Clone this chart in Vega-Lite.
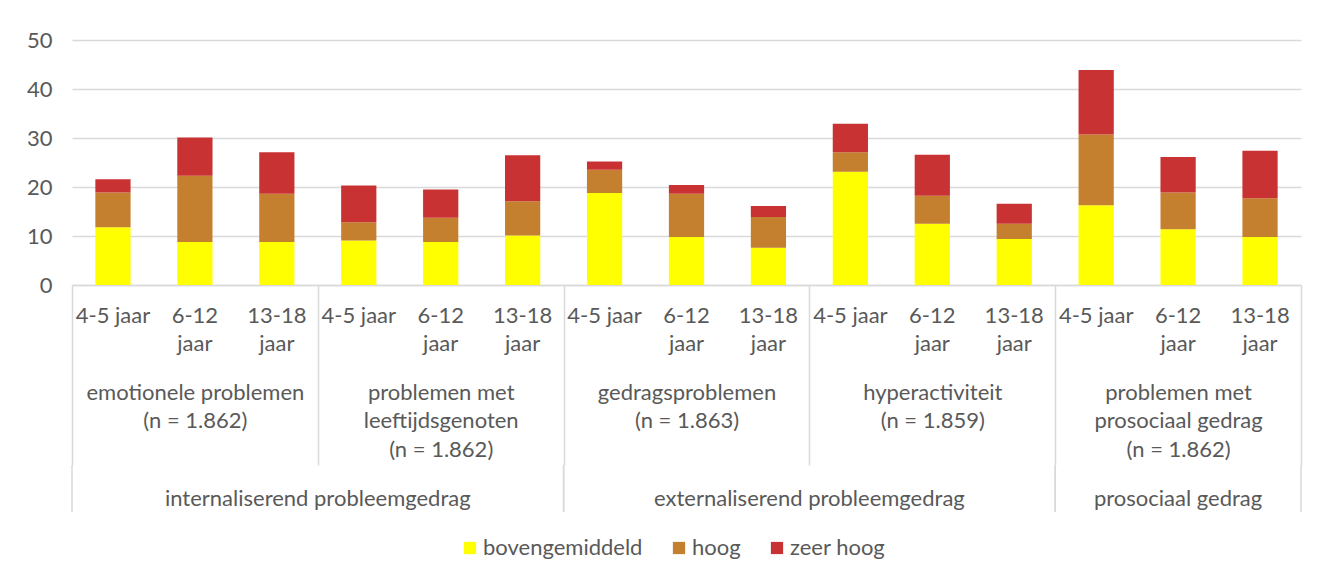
{
  "$schema": "https://vega.github.io/schema/vega-lite/v6.json",
  "padding": {"left": 26, "top": 29, "right": 17, "bottom": 5},
  "background": "white",
  "spacing": 180,
  "bounds": "flush",
  "config": {
    "font": "Lato",
    "view": {"stroke": null},
    "axis": {"labelFont": "Lato", "labelFontSize": 22, "labelColor": "#595959", "title": null, "labelLimit": 0},
    "legend": {"labelFont": "Lato", "labelFontSize": 22, "labelColor": "#595959", "labelLimit": 0}
  },
  "datasets": {
    "staven": [
      {"staaf": "emotionele problemen – 4-5 jaar", "niveau": "bovengemiddeld", "percentage": 11.8},
      {"staaf": "emotionele problemen – 4-5 jaar", "niveau": "hoog", "percentage": 7.1},
      {"staaf": "emotionele problemen – 4-5 jaar", "niveau": "zeer hoog", "percentage": 2.7},
      {"staaf": "emotionele problemen – 6-12 jaar", "niveau": "bovengemiddeld", "percentage": 8.8},
      {"staaf": "emotionele problemen – 6-12 jaar", "niveau": "hoog", "percentage": 13.5},
      {"staaf": "emotionele problemen – 6-12 jaar", "niveau": "zeer hoog", "percentage": 7.8},
      {"staaf": "emotionele problemen – 13-18 jaar", "niveau": "bovengemiddeld", "percentage": 8.8},
      {"staaf": "emotionele problemen – 13-18 jaar", "niveau": "hoog", "percentage": 9.8},
      {"staaf": "emotionele problemen – 13-18 jaar", "niveau": "zeer hoog", "percentage": 8.5},
      {"staaf": "problemen met leeftijdsgenoten – 4-5 jaar", "niveau": "bovengemiddeld", "percentage": 9.1},
      {"staaf": "problemen met leeftijdsgenoten – 4-5 jaar", "niveau": "hoog", "percentage": 3.7},
      {"staaf": "problemen met leeftijdsgenoten – 4-5 jaar", "niveau": "zeer hoog", "percentage": 7.5},
      {"staaf": "problemen met leeftijdsgenoten – 6-12 jaar", "niveau": "bovengemiddeld", "percentage": 8.8},
      {"staaf": "problemen met leeftijdsgenoten – 6-12 jaar", "niveau": "hoog", "percentage": 4.9},
      {"staaf": "problemen met leeftijdsgenoten – 6-12 jaar", "niveau": "zeer hoog", "percentage": 5.8},
      {"staaf": "problemen met leeftijdsgenoten – 13-18 jaar", "niveau": "bovengemiddeld", "percentage": 10.1},
      {"staaf": "problemen met leeftijdsgenoten – 13-18 jaar", "niveau": "hoog", "percentage": 7.0},
      {"staaf": "problemen met leeftijdsgenoten – 13-18 jaar", "niveau": "zeer hoog", "percentage": 9.4},
      {"staaf": "gedragsproblemen – 4-5 jaar", "niveau": "bovengemiddeld", "percentage": 18.8},
      {"staaf": "gedragsproblemen – 4-5 jaar", "niveau": "hoog", "percentage": 4.7},
      {"staaf": "gedragsproblemen – 4-5 jaar", "niveau": "zeer hoog", "percentage": 1.7},
      {"staaf": "gedragsproblemen – 6-12 jaar", "niveau": "bovengemiddeld", "percentage": 9.8},
      {"staaf": "gedragsproblemen – 6-12 jaar", "niveau": "hoog", "percentage": 8.8},
      {"staaf": "gedragsproblemen – 6-12 jaar", "niveau": "zeer hoog", "percentage": 1.8},
      {"staaf": "gedragsproblemen – 13-18 jaar", "niveau": "bovengemiddeld", "percentage": 7.6},
      {"staaf": "gedragsproblemen – 13-18 jaar", "niveau": "hoog", "percentage": 6.3},
      {"staaf": "gedragsproblemen – 13-18 jaar", "niveau": "zeer hoog", "percentage": 2.2},
      {"staaf": "hyperactiviteit – 4-5 jaar", "niveau": "bovengemiddeld", "percentage": 23.1},
      {"staaf": "hyperactiviteit – 4-5 jaar", "niveau": "hoog", "percentage": 4.0},
      {"staaf": "hyperactiviteit – 4-5 jaar", "niveau": "zeer hoog", "percentage": 5.8},
      {"staaf": "hyperactiviteit – 6-12 jaar", "niveau": "bovengemiddeld", "percentage": 12.5},
      {"staaf": "hyperactiviteit – 6-12 jaar", "niveau": "hoog", "percentage": 5.7},
      {"staaf": "hyperactiviteit – 6-12 jaar", "niveau": "zeer hoog", "percentage": 8.4},
      {"staaf": "hyperactiviteit – 13-18 jaar", "niveau": "bovengemiddeld", "percentage": 9.4},
      {"staaf": "hyperactiviteit – 13-18 jaar", "niveau": "hoog", "percentage": 3.1},
      {"staaf": "hyperactiviteit – 13-18 jaar", "niveau": "zeer hoog", "percentage": 4.1},
      {"staaf": "problemen met prosociaal gedrag – 4-5 jaar", "niveau": "bovengemiddeld", "percentage": 16.3},
      {"staaf": "problemen met prosociaal gedrag – 4-5 jaar", "niveau": "hoog", "percentage": 14.4},
      {"staaf": "problemen met prosociaal gedrag – 4-5 jaar", "niveau": "zeer hoog", "percentage": 13.2},
      {"staaf": "problemen met prosociaal gedrag – 6-12 jaar", "niveau": "bovengemiddeld", "percentage": 11.4},
      {"staaf": "problemen met prosociaal gedrag – 6-12 jaar", "niveau": "hoog", "percentage": 7.5},
      {"staaf": "problemen met prosociaal gedrag – 6-12 jaar", "niveau": "zeer hoog", "percentage": 7.2},
      {"staaf": "problemen met prosociaal gedrag – 13-18 jaar", "niveau": "bovengemiddeld", "percentage": 9.8},
      {"staaf": "problemen met prosociaal gedrag – 13-18 jaar", "niveau": "hoog", "percentage": 7.9},
      {"staaf": "problemen met prosociaal gedrag – 13-18 jaar", "niveau": "zeer hoog", "percentage": 9.7}
    ],
    "subschalen": [
      {"label": "emotionele problemen\n(n = 1.862)"},
      {"label": "problemen met\nleeftijdsgenoten\n(n = 1.862)"},
      {"label": "gedragsproblemen\n(n = 1.863)"},
      {"label": "hyperactiviteit\n(n = 1.859)"},
      {"label": "problemen met\nprosociaal gedrag\n(n = 1.862)"}
    ],
    "domeinen": [
      {"domein": "internaliserend probleemgedrag", "eerste": "emotionele problemen – 4-5 jaar", "midden": "problemen met leeftijdsgenoten – 4-5 jaar", "laatste": "problemen met leeftijdsgenoten – 13-18 jaar"},
      {"domein": "externaliserend probleemgedrag", "eerste": "gedragsproblemen – 4-5 jaar", "midden": "hyperactiviteit – 4-5 jaar", "laatste": "hyperactiviteit – 13-18 jaar"},
      {"domein": "prosociaal gedrag", "eerste": "problemen met prosociaal gedrag – 4-5 jaar", "midden": "problemen met prosociaal gedrag – 6-12 jaar", "laatste": "problemen met prosociaal gedrag – 13-18 jaar"}
    ]
  },
  "vconcat": [
    {
      "width": 1229,
      "height": 245,
      "layer": [
        {
          "data": {"name": "staven"},
          "mark": {"type": "bar", "width": {"band": 0.43}},
          "encoding": {
            "x": {
              "field": "staaf", "type": "nominal", "sort": null,
              "scale": {"paddingInner": 0, "paddingOuter": 0},
              "axis": {
                "orient": "bottom",
                "labelExpr": "split(datum.value, ' – ')[1] == '4-5 jaar' ? '4-5 jaar' : split(split(datum.value, ' – ')[1], ' ')",
                "labelAngle": 0, "ticks": false, "domain": true, "domainColor": "#d9d9d9", "domainWidth": 1.5,
                "labelPadding": 20, "labelLineHeight": 28, "labelOverlap": false, "grid": false
              }
            },
            "y": {
              "field": "percentage", "type": "quantitative", "stack": "zero",
              "scale": {"domain": [0, 50]},
              "axis": {"values": [0, 10, 20, 30, 40, 50], "grid": true, "gridColor": "#d9d9d9", "gridWidth": 1.5, "domain": false, "ticks": false, "labelPadding": 20}
            },
            "color": {
              "field": "niveau", "type": "nominal",
              "scale": {"domain": ["bovengemiddeld", "hoog", "zeer hoog"], "range": ["#FFFF00", "#C5802F", "#C83232"]},
              "legend": {"orient": "none", "legendX": 387, "legendY": 497, "direction": "horizontal", "title": null, "symbolType": "square", "symbolSize": 150, "symbolStrokeWidth": 0, "columnPadding": 25, "labelOffset": 2}
            },
            "order": {"field": "niveau", "sort": "ascending"}
          }
        },
        {
          "data": {"name": "subschalen"},
          "mark": {"type": "tick", "opacity": 0},
          "encoding": {
            "x": {
              "field": "label", "type": "nominal", "sort": null,
              "scale": {"paddingInner": 0, "paddingOuter": 0},
              "axis": {
                "orient": "bottom",
                "labelExpr": "datum.value ? split(datum.value, '\\n') : ''",
                "labelAngle": 0, "domain": false, "ticks": true, "tickBand": "extent", "tickSize": 180,
                "tickColor": "#d9d9d9", "tickWidth": 1.5, "labelPadding": -83, "labelLineHeight": 28.5, "labelOverlap": false, "grid": false
              }
            }
          }
        }
      ],
      "resolve": {"scale": {"x": "independent"}, "axis": {"x": "independent"}}
    },
    {
      "width": 1229,
      "height": 47,
      "data": {"name": "domeinen"},
      "layer": [
        {
          "mark": {"type": "rule", "color": "#d9d9d9", "strokeWidth": 1.5},
          "encoding": {
            "x": {"field": "eerste", "type": "nominal", "bandPosition": 0, "axis": null,
              "scale": {"paddingInner": 0, "paddingOuter": 0, "domain": ["emotionele problemen – 4-5 jaar", "emotionele problemen – 6-12 jaar", "emotionele problemen – 13-18 jaar", "problemen met leeftijdsgenoten – 4-5 jaar", "problemen met leeftijdsgenoten – 6-12 jaar", "problemen met leeftijdsgenoten – 13-18 jaar", "gedragsproblemen – 4-5 jaar", "gedragsproblemen – 6-12 jaar", "gedragsproblemen – 13-18 jaar", "hyperactiviteit – 4-5 jaar", "hyperactiviteit – 6-12 jaar", "hyperactiviteit – 13-18 jaar", "problemen met prosociaal gedrag – 4-5 jaar", "problemen met prosociaal gedrag – 6-12 jaar", "problemen met prosociaal gedrag – 13-18 jaar"]}}
          }
        },
        {
          "mark": {"type": "rule", "color": "#d9d9d9", "strokeWidth": 1.5},
          "encoding": {
            "x": {"field": "laatste", "type": "nominal", "bandPosition": 1, "axis": null,
              "scale": {"paddingInner": 0, "paddingOuter": 0, "domain": ["emotionele problemen – 4-5 jaar", "emotionele problemen – 6-12 jaar", "emotionele problemen – 13-18 jaar", "problemen met leeftijdsgenoten – 4-5 jaar", "problemen met leeftijdsgenoten – 6-12 jaar", "problemen met leeftijdsgenoten – 13-18 jaar", "gedragsproblemen – 4-5 jaar", "gedragsproblemen – 6-12 jaar", "gedragsproblemen – 13-18 jaar", "hyperactiviteit – 4-5 jaar", "hyperactiviteit – 6-12 jaar", "hyperactiviteit – 13-18 jaar", "problemen met prosociaal gedrag – 4-5 jaar", "problemen met prosociaal gedrag – 6-12 jaar", "problemen met prosociaal gedrag – 13-18 jaar"]}}
          }
        },
        {
          "transform": [{"filter": "datum.domein != 'prosociaal gedrag'"}],
          "mark": {"type": "text", "font": "Lato", "fontSize": 22, "color": "#595959", "dy": 10},
          "encoding": {
            "x": {"field": "midden", "type": "nominal", "bandPosition": 0, "axis": null,
              "scale": {"paddingInner": 0, "paddingOuter": 0, "domain": ["emotionele problemen – 4-5 jaar", "emotionele problemen – 6-12 jaar", "emotionele problemen – 13-18 jaar", "problemen met leeftijdsgenoten – 4-5 jaar", "problemen met leeftijdsgenoten – 6-12 jaar", "problemen met leeftijdsgenoten – 13-18 jaar", "gedragsproblemen – 4-5 jaar", "gedragsproblemen – 6-12 jaar", "gedragsproblemen – 13-18 jaar", "hyperactiviteit – 4-5 jaar", "hyperactiviteit – 6-12 jaar", "hyperactiviteit – 13-18 jaar", "problemen met prosociaal gedrag – 4-5 jaar", "problemen met prosociaal gedrag – 6-12 jaar", "problemen met prosociaal gedrag – 13-18 jaar"]}},
            "text": {"field": "domein"}
          }
        },
        {
          "transform": [{"filter": "datum.domein == 'prosociaal gedrag'"}],
          "mark": {"type": "text", "font": "Lato", "fontSize": 22, "color": "#595959", "dy": 10},
          "encoding": {
            "x": {"field": "midden", "type": "nominal", "bandPosition": 0.5, "axis": null,
              "scale": {"paddingInner": 0, "paddingOuter": 0, "domain": ["emotionele problemen – 4-5 jaar", "emotionele problemen – 6-12 jaar", "emotionele problemen – 13-18 jaar", "problemen met leeftijdsgenoten – 4-5 jaar", "problemen met leeftijdsgenoten – 6-12 jaar", "problemen met leeftijdsgenoten – 13-18 jaar", "gedragsproblemen – 4-5 jaar", "gedragsproblemen – 6-12 jaar", "gedragsproblemen – 13-18 jaar", "hyperactiviteit – 4-5 jaar", "hyperactiviteit – 6-12 jaar", "hyperactiviteit – 13-18 jaar", "problemen met prosociaal gedrag – 4-5 jaar", "problemen met prosociaal gedrag – 6-12 jaar", "problemen met prosociaal gedrag – 13-18 jaar"]}},
            "text": {"field": "domein"}
          }
        }
      ]
    }
  ]
}
